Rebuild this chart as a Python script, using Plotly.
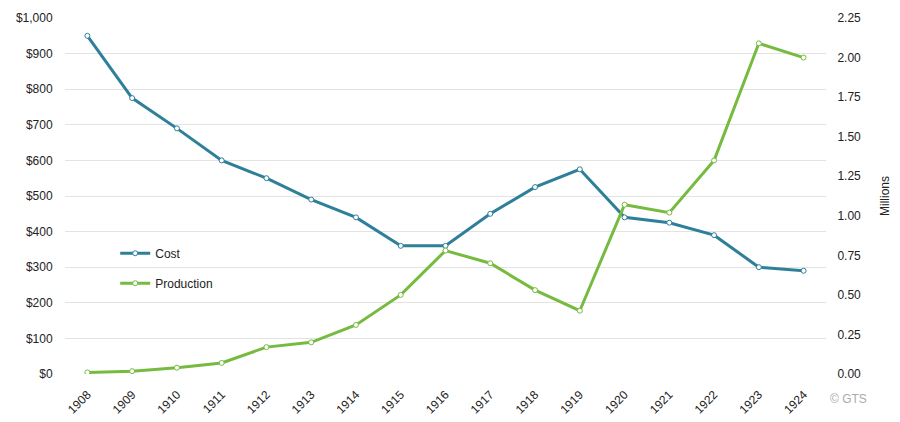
import plotly.graph_objects as go

years = [str(y) for y in range(1908, 1925)]
cost = [950, 775, 690, 600, 550, 490, 440, 360, 360, 450, 525, 575, 440, 425, 390, 300, 290]
production = [0.01, 0.018, 0.04, 0.07, 0.17, 0.2, 0.31, 0.5, 0.78, 0.7, 0.53, 0.4, 1.07, 1.02, 1.35, 2.09, 2.0]

cost_tick_vals = list(range(0, 1001, 100))
cost_tick_text = ["$" + format(v, ",") for v in cost_tick_vals]
prod_tick_vals = [i * 0.25 for i in range(10)]

blue = "#2e7f99"
green = "#76bb40"
clear = "rgba(0,0,0,0)"

fig = go.Figure()
fig.add_trace(go.Scatter(
    x=years, y=cost, name="Cost", mode="lines+markers", legendgroup="a",
    line=dict(color=blue, width=3),
    marker=dict(symbol="circle", size=5, color="white", line=dict(color=blue, width=1)),
))
fig.add_trace(go.Scatter(
    x=years, y=production, name="Production", mode="lines+markers", yaxis="y2",
    legendgroup="b",
    line=dict(color=green, width=3),
    marker=dict(symbol="circle", size=5, color="white", line=dict(color=green, width=1)),
))

# the page body adds 8px, so margins are shifted to compensate
# invisible ticks are used only to push the labels away from the plot
fig.update_layout(
    width=900, height=422,
    margin=dict(l=57, r=82, t=10, b=56),
    paper_bgcolor="white", plot_bgcolor="white",
    font=dict(family="Liberation Sans, Arial, sans-serif", size=12, color="#222"),
    xaxis=dict(type="category", range=[-0.5, len(years) - 0.5], tickangle=-45,
               showgrid=False, showline=False, ticks="outside", ticklen=8,
               tickcolor=clear, tickfont=dict(size=12), automargin=False),
    yaxis=dict(range=[0, 1000], tickvals=cost_tick_vals, ticktext=cost_tick_text,
               showgrid=True, gridcolor="#e3e3e3", gridwidth=1, zeroline=False,
               ticks="outside", ticklen=9, tickcolor=clear, showline=False,
               automargin=False),
    yaxis2=dict(range=[0, 2.25], tickvals=prod_tick_vals, tickformat=".2f",
                overlaying="y", side="right", showgrid=False, zeroline=False,
                ticks="outside", ticklen=8, tickcolor=clear, showline=False,
                automargin=False,
                title=dict(text="Millions", font=dict(size=12), standoff=20)),
    legend=dict(x=0.066, y=0.38, xanchor="left", yanchor="top",
                bgcolor=clear, font=dict(size=12),
                itemwidth=30, traceorder="grouped", tracegroupgap=11),
    showlegend=True,
)
fig.add_annotation(text="© GTS", xref="paper", yref="paper", x=1.003, y=-0.07,
                   xanchor="left", yanchor="middle", showarrow=False,
                   font=dict(size=12, color="#aaaaaa"))

fig.write_html("out.html")
